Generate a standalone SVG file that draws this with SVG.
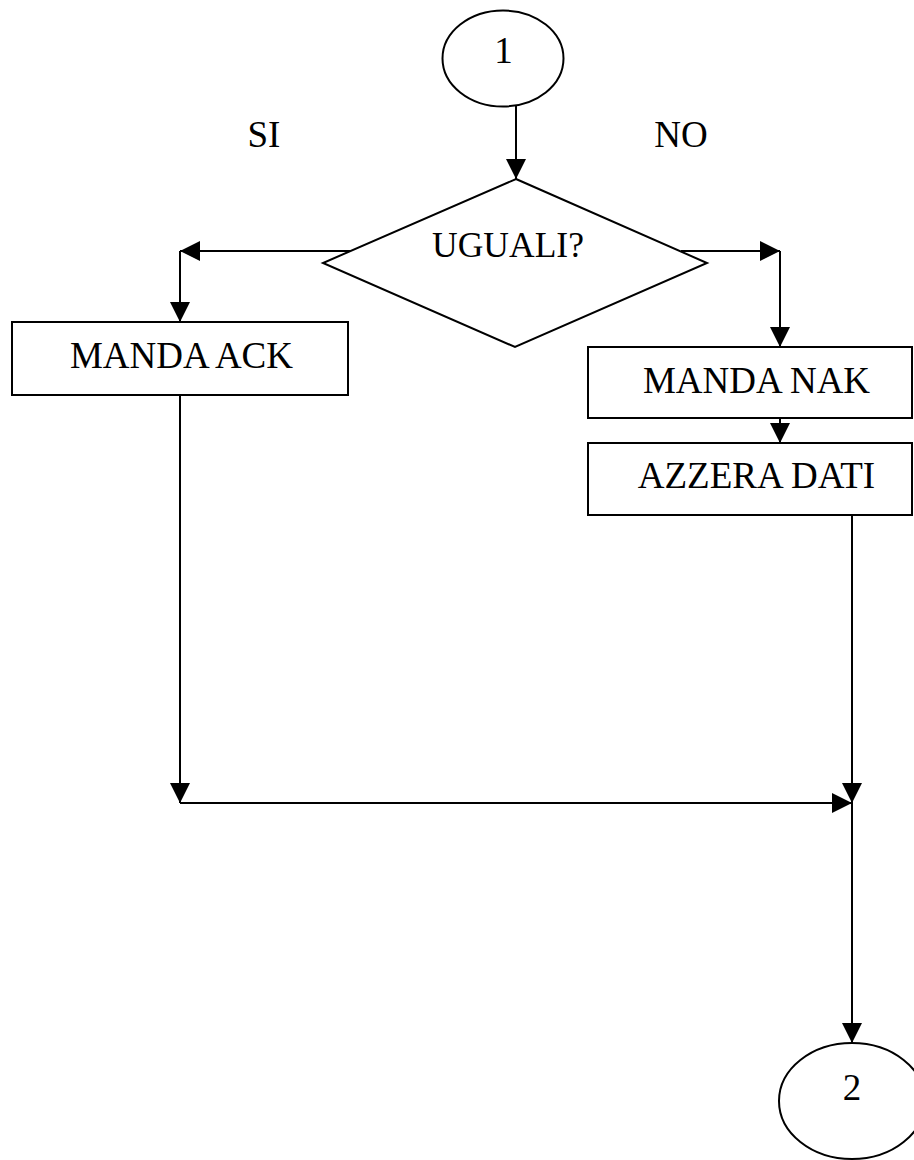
<svg xmlns="http://www.w3.org/2000/svg" width="914" height="1160" viewBox="0 0 914 1160">
<style>
.shape{fill:#fff;stroke:#000;stroke-width:2}
.conn{fill:none;stroke:#000;stroke-width:2;marker-end:url(#arr)}
.lbl{font-family:"Liberation Serif","Times New Roman",serif;font-size:37px;fill:#000;text-anchor:middle}
</style>
<defs>
<marker id="arr" markerUnits="userSpaceOnUse" markerWidth="20" markerHeight="20" refX="20" refY="10" orient="auto">
<path d="M0,0 L20,10 L0,20 Z" fill="#000"/>
</marker>
</defs>
<rect width="914" height="1160" fill="#fff"/>
<g id="connectors">
<path class="conn" d="M516,105 L516,179"/>
<path class="conn" d="M350,251 L180,251"/>
<path class="conn" d="M180,251 L180,322"/>
<path class="conn" d="M681,251 L780,251"/>
<path class="conn" d="M780,251 L780,347"/>
<path class="conn" d="M780,418 L780,443"/>
<path class="conn" d="M180,395 L180,803"/>
<path class="conn" d="M180,803 L852,803"/>
<path class="conn" d="M852,515 L852,803"/>
<path class="conn" d="M852,803 L852,1043"/>
</g>
<g id="start">
<ellipse class="shape" cx="503" cy="58.5" rx="60.5" ry="48"/>
<text class="lbl" x="503.5" y="63">1</text>
</g>
<g id="decision">
<polygon class="shape" points="516,179 707,263 515,347 323,263"/>
<text class="lbl" x="508" y="257" style="font-size:35.5px">UGUALI?</text>
</g>
<g id="label-si"><text class="lbl" x="264" y="147">SI</text></g>
<g id="label-no"><text class="lbl" x="681" y="147">NO</text></g>
<g id="manda-ack">
<rect class="shape" x="12" y="322" width="336" height="73"/>
<text class="lbl" x="181.5" y="368">MANDA ACK</text>
</g>
<g id="manda-nak">
<rect class="shape" x="588" y="347" width="324" height="71"/>
<text class="lbl" x="756.5" y="393">MANDA NAK</text>
</g>
<g id="azzera-dati">
<rect class="shape" x="588" y="443" width="324" height="72"/>
<text class="lbl" x="756.5" y="488">AZZERA DATI</text>
</g>
<g id="end">
<ellipse class="shape" cx="852" cy="1101" rx="73" ry="58"/>
<text class="lbl" x="852" y="1100">2</text>
</g>
</svg>
